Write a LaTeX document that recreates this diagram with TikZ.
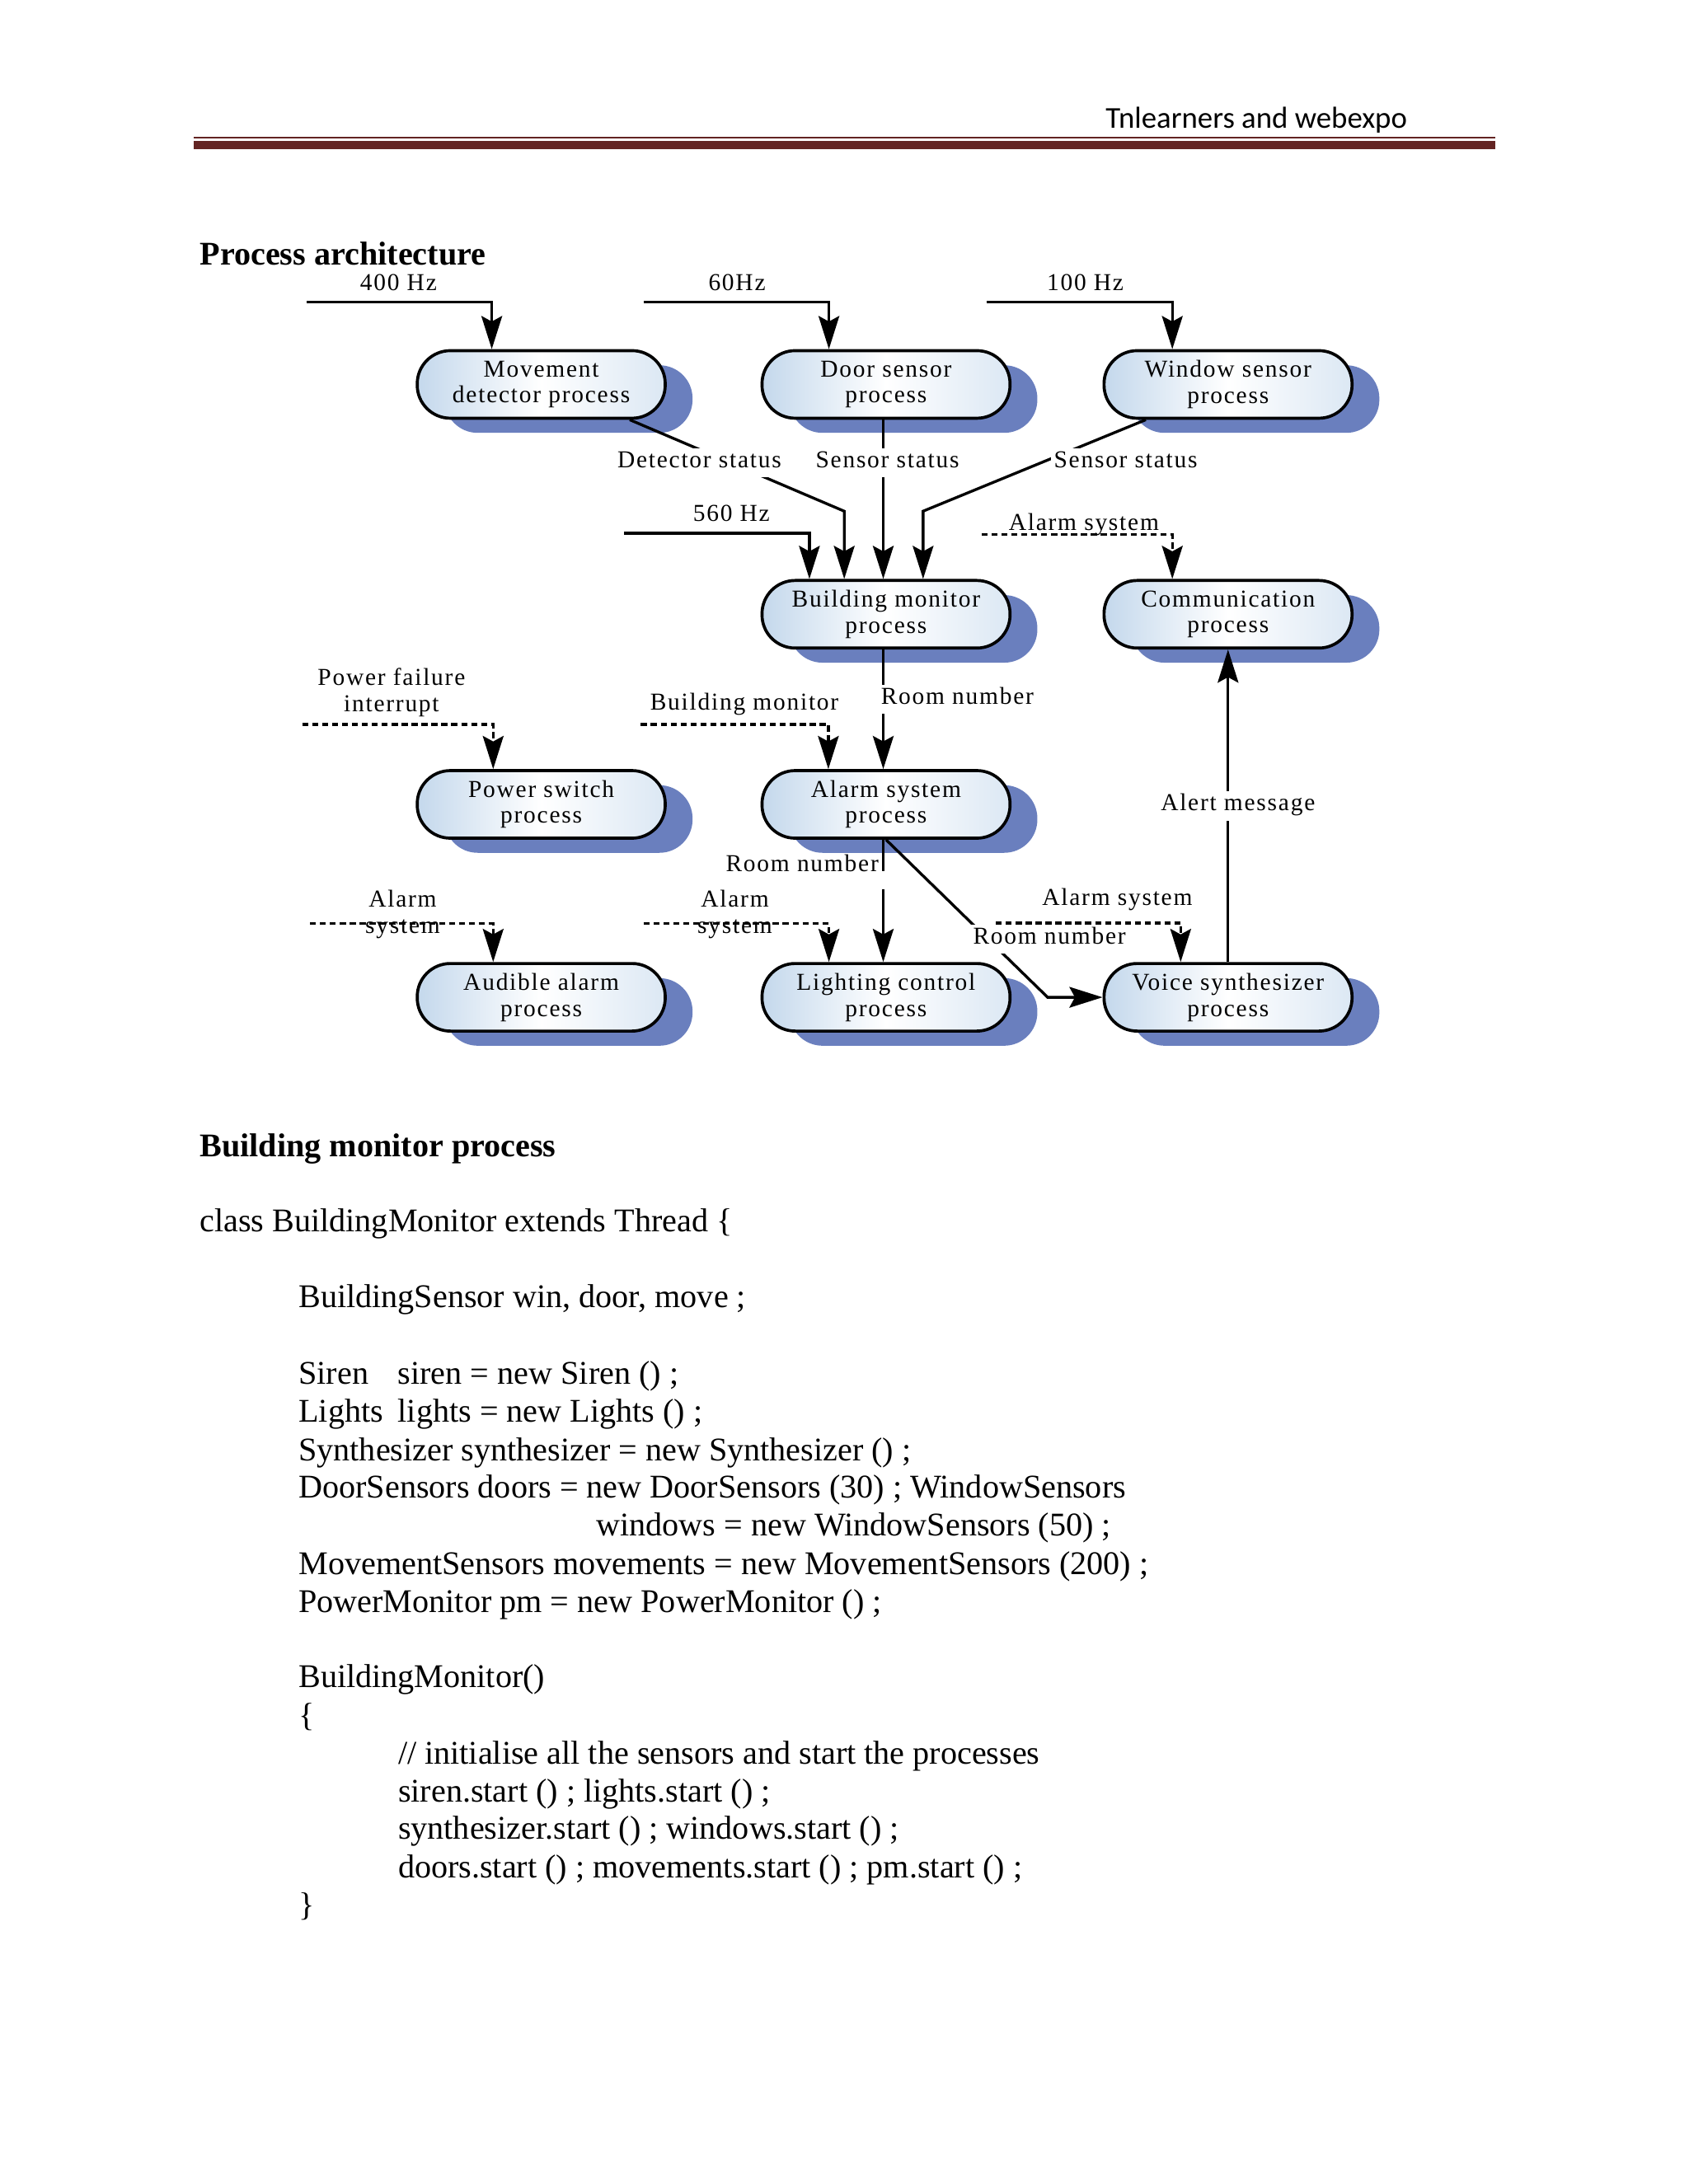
\documentclass[tikz,border=0pt]{standalone}
\usepackage{fontspec}
\setmainfont{Liberation Serif}
\newfontfamily\hdrfont{Carlito}
\newfontfamily\diafont[LetterSpace=6]{Liberation Serif}
\usepackage{xcolor}
\usetikzlibrary{arrows.meta,calc,shadows}
\definecolor{hdrred}{RGB}{99,36,35}
\definecolor{procblue}{RGB}{196,216,236}
\definecolor{shadowblue}{RGB}{106,127,190}

\begin{document}
\begin{tikzpicture}[
    x=0.505pt, y=-0.505pt,
    proc/.style={rectangle, rounded corners=12pt, draw, line width=1.1pt,
        minimum width=89.9pt, minimum height=24.5pt, inner sep=0pt, align=center,
        left color=procblue, right color=procblue!60!white, middle color=white,
        drop shadow={shadow xshift=9.9pt, shadow yshift=-5.3pt, fill=shadowblue, opacity=1},
        font=\diafont\fontsize{8.8pt}{9.5pt}\selectfont},
    lbl/.style={inner sep=1pt, align=center, font=\diafont\fontsize{8.8pt}{9.5pt}\selectfont},
    cut/.style={lbl, fill=white, text height=6pt, text depth=2.5pt},
    arrow/.style={-{Stealth[length=12pt,width=7.5pt,inset=2pt]}, line width=1pt},
    darrow/.style={arrow, dash pattern=on 2.2pt off 1.4pt},
    code/.style={anchor=base west, inner sep=0pt, font=\fontsize{12pt}{13.8pt}\selectfont}
]
    \useasboundingbox (0,0) rectangle (1212,1568);

    % Page header
    \node[anchor=base east, inner sep=0pt, font=\hdrfont\fontsize{11pt}{13pt}\selectfont] (hdr) at (1010.4,91.8) {Tnlearners and webexpo};
    \draw[hdrred, line width=0.8pt] (139,98.9) -- (1073.5,98.9);
    \fill[hdrred] (139,101) rectangle (1073.5,107);

    % Title
    \node[code, font=\bfseries\fontsize{12pt}{13.8pt}\selectfont] (title1) at (143.1,190.4) {Process architecture};

    % Sensor processes
    \node[proc] (mov) at (388.5,276) {Movement\\detector process};
    \node[proc] (door) at (636,276) {Door sensor\\process};
    \node[proc] (win) at (881.5,276) {Window sensor\\process};

    % Monitor and communication
    \node[proc] (bm) at (636,441) {Building monitor\\process};
    \node[proc] (com) at (881.5,441) {Communication\\process};

    % Power and alarm
    \node[proc] (pw) at (388.5,577.5) {Power switch\\process};
    \node[proc] (as) at (636,577.5) {Alarm system\\process};

    % Actuators
    \node[proc] (aud) at (388.5,716) {Audible alarm\\process};
    \node[proc] (lc) at (636,716) {Lighting control\\process};
    \node[proc] (vs) at (881.5,716) {Voice synthesizer\\process};

    % Free ends and bends
    \coordinate (f400) at (220,217);
    \coordinate (f60) at (462,217);
    \coordinate (f100) at (708,217);
    \coordinate (f560) at (448,382.8);
    \coordinate (fas) at (704.6,383.8);
    \coordinate (detbend) at (606,367);
    \coordinate (winbend) at (662.6,367);
    \coordinate (fbm) at (460,520);
    \coordinate (fpf) at (217,520);
    \coordinate (fau) at (222.5,663);
    \coordinate (flc) at (462,663);
    \coordinate (fvs) at (714.8,662.6);
    \coordinate (gaptop) at (634,625.5);
    \coordinate (gapbot) at (634,638.4);
    \coordinate (vsbend) at (752,716);

    % Arrows
    \draw[arrow] (f400) -| ($(mov.north)+(-35.5,0)$);
    \draw[arrow] (f60) -| ($(door.north)+(-41,0)$);
    \draw[arrow] (f100) -| ($(win.north)+(-40,0)$);
    \draw[arrow] ($(mov.south)+(63.5,0)$) -- (detbend) -- ($(bm.north)+(-30,0)$);
    \draw[arrow] ($(door.south)+(-2,0)$) -- ($(bm.north)+(-2,0)$);
    \draw[arrow] ($(win.south)+(-59,0)$) -- (winbend) -- ($(bm.north)+(26.6,0)$);
    \draw[arrow] (f560) -| ($(bm.north)+(-55,0)$);
    \draw[darrow] (fas) -| ($(com.north)+(-40,0)$);
    \draw[arrow] ($(bm.south)+(-2,0)$) -- ($(as.north)+(-2,0)$);
    \draw[darrow] (fbm) -| ($(as.north)+(-41.4,0)$);
    \draw[darrow] (fpf) -| ($(pw.north)+(-34.5,0)$);
    \draw[line width=1pt] ($(as.south)+(-2,0)$) -- (gaptop);
    \draw[arrow] (gapbot) -- ($(lc.north)+(-2,0)$);
    \draw[arrow] (as.south) -- (vsbend) -- (vs.west);
    \draw[darrow] (fau) -| ($(aud.north)+(-34.5,0)$);
    \draw[darrow] (flc) -| ($(lc.north)+(-41,0)$);
    \draw[darrow] (fvs) -| ($(vs.north)+(-34,0)$);
    \draw[arrow] (vs.north) -- (com.south);

    % Labels
    \node[lbl, anchor=base] (l400) at (286,208.8) {400 Hz};
    \node[lbl, anchor=base] (l60) at (529,208.8) {60Hz};
    \node[lbl, anchor=base] (l100) at (779,208.8) {100 Hz};
    \node[cut, anchor=base] (ldet) at (502,335.5) {Detector status};
    \node[cut, anchor=base] (ldoor) at (637,335.5) {Sensor status};
    \node[cut, anchor=base] (lwin) at (808,335.5) {Sensor status};
    \node[lbl, anchor=base] (l560) at (525,374.5) {560 Hz};
    \node[lbl, anchor=base] (lcom) at (778,380.5) {Alarm system};
    \node[cut, anchor=base west] (lroom1) at (630,505.6) {Room number};
    \node[lbl, anchor=base] (lbm) at (534.3,510) {Building monitor};
    \node[lbl] (lpf) at (281,497) {Power failure\\interrupt};
    \node[lbl, anchor=base east] (lroom2) at (633,625.5) {Room number};
    \node[lbl] (laud) at (289,656.4) {Alarm\\system};
    \node[lbl] (llc) at (527.5,656.4) {Alarm\\system};
    \node[lbl, anchor=base] (lvs) at (802,650.2) {Alarm system};
    \node[cut, anchor=base] (lroom3) at (753.3,677.8) {Room number};
    \node[cut, anchor=base] (lalert) at (888.6,582.1) {Alert message};

    % Second title
    \node[code, font=\bfseries\fontsize{12pt}{13.8pt}\selectfont] (title2) at (143,830.4) {Building monitor process};

    % Code listing
    \node[code] (c1) at (143,884) {class BuildingMonitor extends Thread \{};
    \node[code] (c2) at (214,938.9) {BuildingSensor win, door, move ;};
    \node[code] (c3) at (214,993.6) {\makebox[36pt][l]{Siren}siren = new Siren () ;};
    \node[code] (c4) at (214,1021.2) {\makebox[36pt][l]{Lights}lights = new Lights () ;};
    \node[code] (c5) at (214,1048.5) {Synthesizer synthesizer = new Synthesizer () ;};
    \node[code] (c6) at (214,1075.5) {DoorSensors doors = new DoorSensors (30) ; WindowSensors};
    \node[code] (c7) at (427.7,1102.8) {windows = new WindowSensors (50) ;};
    \node[code] (c8) at (214,1130.2) {MovementSensors movements = new MovementSensors (200) ;};
    \node[code] (c9) at (214,1157.6) {PowerMonitor pm = new PowerMonitor () ;};
    \node[code] (c10) at (214,1211.5) {BuildingMonitor()};
    \node[code] (c11) at (214,1239) {\{};
    \node[code] (c12) at (285.4,1266.5) {// initialise all the sensors and start the processes};
    \node[code] (c13) at (285.4,1293.9) {siren.start () ; lights.start () ;};
    \node[code] (c14) at (285.4,1320.4) {synthesizer.start () ; windows.start () ;};
    \node[code] (c15) at (285.4,1347.9) {doors.start () ; movements.start () ; pm.start () ;};
    \node[code] (c16) at (214,1375.3) {\}};

\end{tikzpicture}
\end{document}
